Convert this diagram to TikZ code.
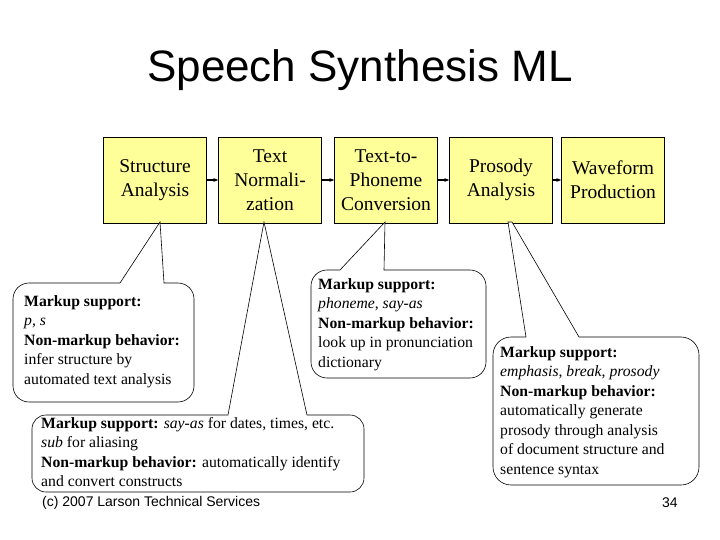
\documentclass[tikz,border=0pt]{standalone}
\usepackage{fontspec}
\setmainfont{Liberation Serif}
\newfontfamily\sansf{Liberation Sans}
\usetikzlibrary{arrows.meta}
\definecolor{boxy}{RGB}{255,255,153}
\begin{document}
\begin{tikzpicture}[x=1pt,y=-1pt,
  stage/.style={draw,fill=boxy,minimum width=103pt,minimum height=86pt,align=center,font=\fontsize{19.5}{24}\selectfont,inner sep=2pt},
  txt/.style={anchor=north west,align=left,font=\fontsize{15.7}{19.5}\selectfont,inner sep=0pt},
  co/.style={draw,fill=white,line width=0.6pt},
  arr/.style={-{Stealth[length=5pt]},line width=1.2pt}]
\useasboundingbox (0,0) rectangle (720,540);
\node[font=\sansf\fontsize{44}{46}\selectfont] (title) at (360,70) {Speech Synthesis ML};
\node[stage] (s1) at (155,180) {Structure\\Analysis};
\node[stage] (s2) at (270,180) {Text\\Normali-\\zation};
\node[stage] (s3) at (386,180) {Text-to-\\Phoneme\\Conversion};
\node[stage] (s4) at (501,180) {Prosody\\Analysis};
\node[stage] (s5) at (613,180) {Waveform\\Production};
\foreach \a/\b in {s1/s2,s2/s3,s3/s4,s4/s5} \draw[arr] (\a) -- (\b);
\draw[co] (120,283) -- (160,222) -- (164,283) [rounded corners=16pt] -- (194,283) -- (194,402) -- (13,402) -- (13,283) [sharp corners] -- cycle;
\draw[co] (228,415) -- (264,222) -- (307,415) [rounded corners=14pt] -- (364,415) -- (364,492) -- (32,492) -- (32,415) [sharp corners] -- cycle;
\draw[co] (340,270) -- (385,222) -- (384,270) [rounded corners=16pt] -- (486,270) -- (486,378) -- (311,378) -- (311,270) [sharp corners] -- cycle;
\draw[co] (526,337) -- (508,222) -- (512,222) -- (579,337) [rounded corners=18pt] -- (699,337) -- (699,485) -- (493,485) -- (493,337) [sharp corners] -- cycle;
\node[txt] (t1) at (24,295) {\textbf{Markup support:}\\\textit{p}, \textit{s}\\\textbf{Non-markup behavior:}\\infer structure by\\automated text analysis};
\node[txt] (t2) at (41,417) {\textbf{Markup support:} \textit{say-as} for dates, times, etc.\\\textit{sub} for aliasing\\\textbf{Non-markup behavior:} automatically identify\\and convert constructs};
\node[txt] (t3) at (318,278) {\textbf{Markup support:}\\\textit{phoneme}, \textit{say-as}\\\textbf{Non-markup behavior:}\\look up in pronunciation\\dictionary};
\node[txt] (t4) at (500,346) {\textbf{Markup support:}\\\textit{emphasis}, \textit{break}, \textit{prosody}\\\textbf{Non-markup behavior:}\\automatically generate\\prosody through analysis\\of document structure and\\sentence syntax};
\node[anchor=west,font=\sansf\fontsize{14}{16}\selectfont,inner sep=0pt] (foot) at (42,503) {(c) 2007 Larson Technical Services};
\node[anchor=west,font=\sansf\fontsize{14}{16}\selectfont,inner sep=0pt] (pg) at (662,503) {34};
\end{tikzpicture}
\end{document}
